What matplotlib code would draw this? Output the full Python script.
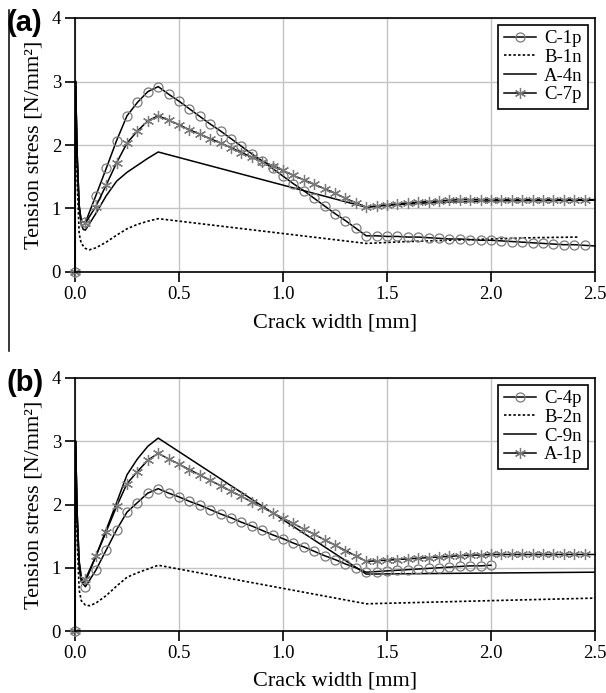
import matplotlib
matplotlib.use("Agg")
import matplotlib.pyplot as plt
from matplotlib.lines import Line2D

plt.rcParams['font.family'] = ['Liberation Serif', 'DejaVu Serif']

# ---------------- Panel (a) data ----------------
a_c1p_x = [0, 0.003, 0.01, 0.02, 0.03,
           0.05, 0.10, 0.15, 0.20, 0.25, 0.30, 0.35, 0.40, 0.45, 0.50, 0.55, 0.60, 0.65, 0.70, 0.75,
           0.80, 0.85, 0.90, 0.95, 1.00, 1.05, 1.10, 1.15, 1.20, 1.25, 1.30, 1.35, 1.40, 1.45, 1.50,
           1.55, 1.60, 1.65, 1.70, 1.75, 1.80, 1.85, 1.90, 1.95, 2.00, 2.05, 2.10, 2.15, 2.20, 2.25,
           2.30, 2.35, 2.40, 2.45, 2.50]
a_c1p_y = [0, 3.0, 1.9, 1.05, 0.80,
           0.78, 1.20, 1.63, 2.07, 2.46, 2.67, 2.84, 2.92, 2.80, 2.69, 2.57, 2.45, 2.33, 2.22, 2.10,
           1.98, 1.86, 1.75, 1.63, 1.51, 1.39, 1.28, 1.16, 1.04, 0.92, 0.81, 0.69, 0.57, 0.57, 0.56,
           0.56, 0.55, 0.55, 0.54, 0.53, 0.52, 0.52, 0.51, 0.50, 0.50, 0.49, 0.48, 0.47, 0.46, 0.45,
           0.44, 0.43, 0.43, 0.42, 0.41]

a_b1n_x = [0.003, 0.01, 0.02, 0.03, 0.05, 0.07, 0.10, 0.15, 0.20, 0.25, 0.30, 0.35, 0.40,
           1.40, 1.60, 1.80, 2.00, 2.20, 2.42]
a_b1n_y = [3.0, 1.5, 0.60, 0.45, 0.37, 0.35, 0.38, 0.47, 0.58, 0.68, 0.75, 0.80, 0.84,
           0.45, 0.48, 0.50, 0.52, 0.54, 0.55]

a_a4n_x = [0.003, 0.01, 0.02, 0.03, 0.04, 0.05, 0.10, 0.15, 0.20, 0.25, 0.30, 0.35, 0.40,
           1.40, 1.50, 1.70, 2.00, 2.50]
a_a4n_y = [3.0, 1.8, 1.0, 0.75, 0.67, 0.66, 0.92, 1.20, 1.43, 1.57, 1.68, 1.79, 1.89,
           1.02, 1.05, 1.09, 1.12, 1.13]

a_c7p_x = a_c1p_x
a_c7p_y = [0, 3.0, 1.9, 1.05, 0.80,
           0.77, 1.03, 1.37, 1.72, 2.03, 2.22, 2.38, 2.46, 2.39, 2.32, 2.24, 2.17, 2.10, 2.03, 1.96,
           1.88, 1.81, 1.74, 1.67, 1.60, 1.52, 1.45, 1.38, 1.31, 1.24, 1.16, 1.09, 1.02, 1.04, 1.06,
           1.07, 1.09, 1.10, 1.11, 1.12, 1.13, 1.14, 1.14, 1.14, 1.14, 1.14, 1.14, 1.14, 1.14, 1.14,
           1.14, 1.14, 1.14, 1.14, 1.14]

# ---------------- Panel (b) data ----------------
b_c4p_x = [0, 0.003, 0.01, 0.02, 0.03,
           0.05, 0.10, 0.15, 0.20, 0.25, 0.30, 0.35, 0.40, 0.45, 0.50, 0.55, 0.60, 0.65, 0.70, 0.75,
           0.80, 0.85, 0.90, 0.95, 1.00, 1.05, 1.10, 1.15, 1.20, 1.25, 1.30, 1.35, 1.40, 1.45, 1.50,
           1.55, 1.60, 1.65, 1.70, 1.75, 1.80, 1.85, 1.90, 1.95, 2.00]
b_c4p_y = [0, 3.0, 1.8, 1.0, 0.78,
           0.70, 0.96, 1.28, 1.60, 1.88, 2.03, 2.18, 2.25, 2.18, 2.12, 2.05, 1.99, 1.92, 1.85, 1.79,
           1.72, 1.66, 1.59, 1.52, 1.46, 1.39, 1.33, 1.26, 1.19, 1.13, 1.06, 1.00, 0.93, 0.94, 0.95,
           0.96, 0.97, 0.98, 0.99, 1.00, 1.01, 1.02, 1.03, 1.03, 1.04]

b_b2n_x = [0.003, 0.01, 0.02, 0.03, 0.05, 0.07, 0.10, 0.15, 0.20, 0.25, 0.30, 0.35, 0.40,
           1.40, 2.00, 2.50]
b_b2n_y = [3.0, 1.5, 0.65, 0.48, 0.41, 0.40, 0.44, 0.56, 0.71, 0.85, 0.92, 0.98, 1.04,
           0.43, 0.48, 0.52]

b_c9n_x = [0.003, 0.01, 0.02, 0.03, 0.04, 0.05, 0.10, 0.15, 0.20, 0.25, 0.30, 0.35, 0.40,
           1.40, 2.50]
b_c9n_y = [3.0, 1.9, 1.1, 0.85, 0.77, 0.78, 1.18, 1.60, 2.03, 2.47, 2.72, 2.92, 3.05,
           0.90, 0.93]

b_a1p_x = a_c1p_x
b_a1p_y = [0, 3.0, 1.9, 1.1, 0.85,
           0.82, 1.18, 1.57, 1.97, 2.33, 2.52, 2.70, 2.81, 2.72, 2.64, 2.55, 2.47, 2.38, 2.30, 2.21,
           2.13, 2.04, 1.96, 1.87, 1.78, 1.70, 1.61, 1.53, 1.44, 1.36, 1.27, 1.19, 1.10, 1.11, 1.12,
           1.13, 1.14, 1.15, 1.16, 1.17, 1.18, 1.19, 1.20, 1.20, 1.21, 1.21, 1.21, 1.21, 1.21, 1.21,
           1.21, 1.21, 1.21, 1.21, 1.21]

panels = [
    ("(a)", [("C-1p", a_c1p_x, a_c1p_y, "o"), ("B-1n", a_b1n_x, a_b1n_y, "dot"),
             ("A-4n", a_a4n_x, a_a4n_y, "solid"), ("C-7p", a_c7p_x, a_c7p_y, "star")]),
    ("(b)", [("C-4p", b_c4p_x, b_c4p_y, "o"), ("B-2n", b_b2n_x, b_b2n_y, "dot"),
             ("C-9n", b_c9n_x, b_c9n_y, "solid"), ("A-1p", b_a1p_x, b_a1p_y, "star")]),
]

x_ticks = [0.0, 0.5, 1.0, 1.5, 2.0, 2.5]
y_ticks = [0, 1, 2, 3, 4]

W, H = 606, 693
fig = plt.figure(figsize=(W / 100, H / 100), dpi=100)

axes_px = [(18, 272), (378, 631)]
label_pads = [8, 7]
GRAY = "#7a7a7a"

for (tag, series), (top, bot), lp in zip(panels, axes_px, label_pads):
    ax = fig.add_axes([75 / W, 1 - bot / H, 520 / W, (bot - top) / H])
    ax.set_xlim(0, 2.5)
    ax.set_ylim(0, 4)
    ax.set_xticks(x_ticks)
    ax.set_xticklabels([f"{t:.1f}" for t in x_ticks])
    ax.set_yticks(y_ticks)
    ax.set_yticklabels([str(t) for t in y_ticks])
    ax.grid(True, color="#c4c4c4", lw=1.0, zorder=0)
    ax.set_axisbelow(True)
    ax.tick_params(direction="out", length=7, width=1.2, labelsize=13.5, pad=3, colors="black")
    for sp in ax.spines.values():
        sp.set_linewidth(1.2)
        sp.set_color("black")
        sp.set_zorder(5)

    for name, xs, ys, kind in series:
        if kind == "o":
            me = [i for i, x in enumerate(xs) if x == 0 or (x >= 0.049 and x <= 2.451)]
            ax.plot(xs, ys, color="black", lw=1.1, marker="o", markersize=6.5, mfc="none",
                    mec=GRAY, mew=0.9, markevery=me, label=name, clip_on=False, zorder=3)
        elif kind == "star":
            me = [i for i, x in enumerate(xs) if x == 0 or (x >= 0.049 and x <= 2.451)]
            ax.plot(xs, ys, color="black", lw=1.1, marker=(6, 2, 0), markersize=8,
                    mec=GRAY, mew=0.9, markevery=me, label=name, clip_on=False, zorder=4)
        elif kind == "dot":
            ax.plot(xs, ys, color="black", lw=1.2, ls=(0, (1.5, 1.3)), label=name, zorder=2)
        else:
            ax.plot(xs, ys, color="black", lw=1.1, label=name, zorder=2)

    leg = ax.legend(loc="upper right", fontsize=13.5, frameon=True, fancybox=False,
                    edgecolor="black", framealpha=1, borderaxespad=0.35, borderpad=0.3,
                    handlelength=1.7, handletextpad=0.45, labelspacing=0.08, numpoints=1)
    leg.get_frame().set_linewidth(1.2)
    leg.set_zorder(6)

    ax.set_xlabel("Crack width [mm]", fontsize=16, labelpad=lp)
    ax.set_ylabel("Tension stress [N/mm²]", fontsize=16, labelpad=6)

    fig.text(6 / W, 1 - (top + 5) / H, tag, fontsize=21, fontweight="bold",
             family=["Liberation Sans", "DejaVu Sans"], ha="left", va="center")

# thin vertical border line at the left of panel (a)
fig.add_artist(Line2D([9 / W, 9 / W], [1 - 10 / H, 1 - 351 / H], color="black", lw=1.1,
                      transform=fig.transFigure))

fig.savefig("out.png", dpi=100)
